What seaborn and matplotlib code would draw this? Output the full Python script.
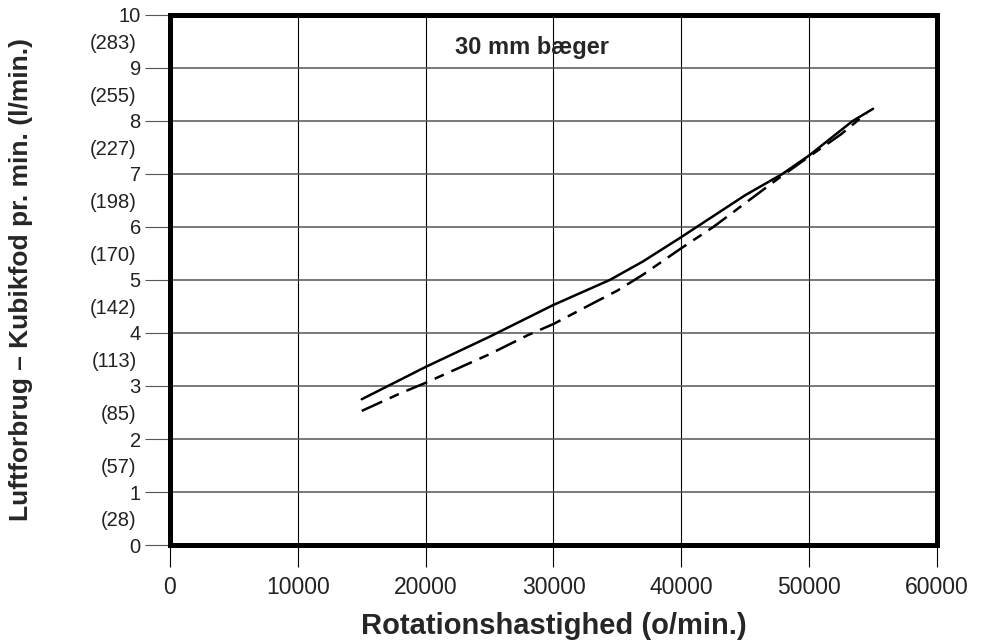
import pandas as pd
import seaborn as sns
import matplotlib.pyplot as plt
from matplotlib.ticker import FixedLocator, FixedFormatter

# aflæste værdier
rpm_solid = [15000, 20000, 25000, 30000, 34400, 37000, 40000, 41200, 45000, 47900, 50000, 53400, 55000]
cfm_solid = [2.75, 3.36, 3.93, 4.53, 5.0, 5.35, 5.81, 6.0, 6.6, 7.0, 7.35, 8.0, 8.23]

rpm_dash = [15000, 18000, 20000, 25000, 28000, 30000, 33000, 35000, 37000, 40000, 42500, 45000, 47500, 50000, 52500, 54500]
cfm_dash = [2.53, 2.86, 3.06, 3.6, 3.96, 4.17, 4.55, 4.8, 5.1, 5.6, 6.0, 6.45, 6.9, 7.33, 7.75, 8.15]

y_major = [0, 1, 2, 3, 4, 5, 6, 7, 8, 9, 10]
y_minor = [0.5, 1.5, 2.5, 3.5, 4.5, 5.5, 6.5, 7.5, 8.5, 9.5]
liter_labels = ['(28)', '(57)', '(85)', '(113)', '(142)', '(170)', '(198)', '(227)', '(255)', '(283)']
x_ticks = [0, 10000, 20000, 30000, 40000, 50000, 60000]

df = pd.concat([
    pd.DataFrame({'rpm': rpm_solid, 'cfm': cfm_solid, 'serie': 'a'}),
    pd.DataFrame({'rpm': rpm_dash, 'cfm': cfm_dash, 'serie': 'b'}),
])

sns.set_style('white')
plt.rcParams['font.family'] = ['Liberation Sans', 'DejaVu Sans']

fig = plt.figure(figsize=(9.83, 6.43), dpi=100)
ax = fig.add_axes([0.1729, 0.1524, 0.7803, 0.8243])

sns.lineplot(data=df, x='rpm', y='cfm', style='serie',
             dashes={'a': '', 'b': (9, 3.3, 4, 3.3)},
             color='black', linewidth=1.8, legend=False, ax=ax, sort=False)

ax.set_xlim(0, 60000)
ax.set_ylim(0, 10)
ax.set_xticks(x_ticks)
ax.set_xticklabels([str(v) for v in x_ticks])
ax.set_yticks(y_major)
ax.yaxis.set_minor_locator(FixedLocator(y_minor))
ax.yaxis.set_minor_formatter(FixedFormatter(liter_labels))

# gitter
for v in x_ticks[1:-1]:
    ax.axvline(v, color='black', linewidth=0.8, zorder=0)
for v in y_major[1:-1]:
    ax.axhline(v, color='#555555', linewidth=1.1, zorder=0)

for s in ax.spines.values():
    s.set_visible(True)
    s.set_linewidth(3.6)
    s.set_color('black')

ax.tick_params(axis='x', which='major', length=16, width=0.8, color='black',
               labelsize=16.5, pad=6, labelcolor='#222222', direction='out', bottom=True)
ax.tick_params(axis='y', which='major', length=18, width=0.8, color='#555555',
               labelsize=14.5, pad=3, labelcolor='#222222', direction='out', left=True)
ax.tick_params(axis='y', which='minor', length=0, labelsize=14.5, pad=24,
               labelcolor='#222222', left=True)

ax.set_xlabel('Rotationshastighed (o/min.)', fontsize=21, fontweight='bold')
ax.set_ylabel('Luftforbrug – Kubikfod pr. min. (l/min.)', fontsize=19, fontweight='bold')
ax.xaxis.set_label_coords(0.5, -0.127)
ax.yaxis.set_label_coords(-0.178, 0.5)

ax.text(0.372, 0.938, '30 mm bæger', transform=ax.transAxes,
        fontsize=17, fontweight='bold', ha='left', va='center')

plt.savefig('out.png', dpi=100)
